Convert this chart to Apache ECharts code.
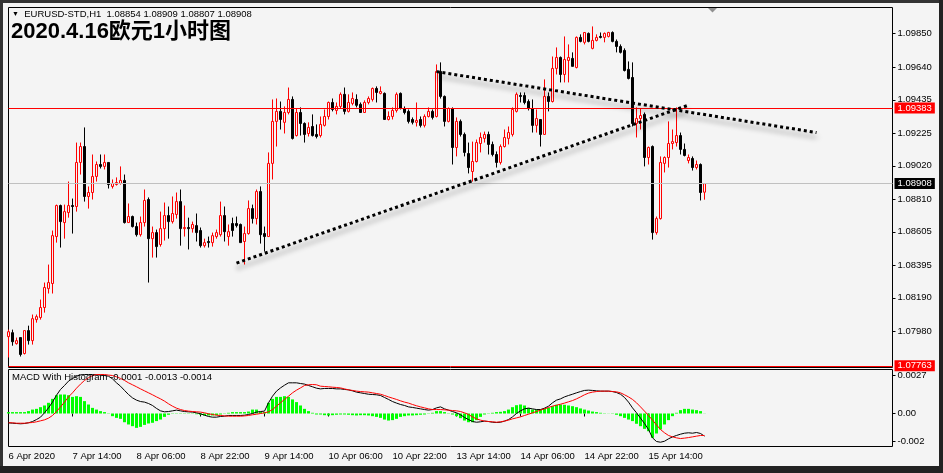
<!DOCTYPE html>
<html><head><meta charset="utf-8">
<script src="https://cdn.jsdelivr.net/npm/echarts@6/dist/echarts.min.js"></script>
<style>html,body{margin:0;padding:0;background:#2b2b2b;}#c{width:943px;height:473px;}</style>
</head><body><div id="c"></div>
<script>
// ---- data ----
const tickLabels = ['6 Apr 2020','7 Apr 14:00','8 Apr 06:00','8 Apr 22:00','9 Apr 14:00','10 Apr 06:00','10 Apr 22:00','13 Apr 14:00','14 Apr 06:00','14 Apr 22:00','15 Apr 14:00'];
const priceTicks = [1.09850,1.09640,1.09435,1.09225,1.09020,1.08810,1.08605,1.08395,1.08190,1.07980];
const macdTicks = [0.0027, 0, -0.002];
const macdTickLabels = ['0.0027','0.00','-0.002'];
const header = 'EURUSD-STD,H1  1.08854 1.08909 1.08807 1.08908';
const macdHeader = 'MACD With Histogram -0.0001 -0.0013 -0.0014';
const titleText = '2020.4.16欧元1小时图';
const levels = [1.09383, 1.08908, 1.07763];
const trendLines = [[[57,1.08408],[170,1.09401]],[[107,1.09612],[202,1.09229]]];
// [open, close, low, high]
const candles = [
[1.07946,1.07977,1.07815,1.07990],[1.07971,1.07914,1.07889,1.07990],[1.07902,1.07921,1.07896,1.07940],[1.07940,1.07834,1.07821,1.07940],[1.07840,1.07984,1.07834,1.07984],
[1.07984,1.07921,1.07896,1.08015],[1.07921,1.08059,1.07896,1.08085],[1.08053,1.08072,1.08034,1.08085],[1.08066,1.08129,1.08053,1.08179],[1.08129,1.08255,1.08097,1.08286],
[1.08248,1.08286,1.08217,1.08399],[1.08280,1.08581,1.08217,1.08613],[1.08575,1.08770,1.08537,1.08776],[1.08770,1.08669,1.08506,1.08776],[1.08663,1.08732,1.08562,1.08776],
[1.08726,1.08770,1.08694,1.08921],[1.08770,1.08764,1.08594,1.08814],[1.08764,1.09041,1.08732,1.09166],[1.09041,1.09141,1.08965,1.09166],[1.09141,1.08827,1.08795,1.09261],
[1.08827,1.08852,1.08751,1.08890],[1.08852,1.08953,1.08808,1.09091],[1.08953,1.09028,1.08921,1.09047],[1.09028,1.09016,1.09003,1.09091],[1.09016,1.09041,1.08997,1.09091],
[1.09041,1.08902,1.08877,1.09041],[1.08890,1.08909,1.08877,1.08934],[1.08902,1.08915,1.08896,1.08947],[1.08909,1.08928,1.08902,1.09016],[1.08928,1.08663,1.08657,1.08965],
[1.08663,1.08701,1.08663,1.08783],[1.08701,1.08638,1.08632,1.08707],[1.08638,1.08587,1.08575,1.08663],[1.08587,1.08663,1.08575,1.08701],[1.08663,1.08802,1.08638,1.08871],
[1.08808,1.08562,1.08286,1.08821],[1.08562,1.08600,1.08443,1.08638],[1.08600,1.08512,1.08443,1.08619],[1.08525,1.08625,1.08512,1.08732],[1.08625,1.08707,1.08550,1.08789],
[1.08707,1.08669,1.08562,1.08764],[1.08669,1.08720,1.08657,1.08827],[1.08714,1.08795,1.08688,1.08852],[1.08795,1.08625,1.08518,1.08871],[1.08625,1.08632,1.08575,1.08770],
[1.08632,1.08625,1.08494,1.08694],[1.08625,1.08651,1.08600,1.08669],[1.08644,1.08600,1.08544,1.08720],[1.08613,1.08518,1.08506,1.08632],[1.08518,1.08537,1.08506,1.08562],
[1.08544,1.08537,1.08506,1.08575],[1.08537,1.08581,1.08512,1.08600],[1.08575,1.08600,1.08562,1.08619],[1.08587,1.08707,1.08575,1.08795],[1.08707,1.08606,1.08544,1.08764],
[1.08575,1.08606,1.08518,1.08651],[1.08657,1.08613,1.08575,1.08694],[1.08657,1.08644,1.08632,1.08701],[1.08651,1.08537,1.08537,1.08657],[1.08544,1.08594,1.08399,1.08638],
[1.08594,1.08751,1.08587,1.08802],[1.08751,1.08688,1.08657,1.08776],[1.08688,1.08858,1.08651,1.08871],[1.08858,1.08587,1.08531,1.08890],[1.08594,1.08575,1.08481,1.08638],
[1.08575,1.09035,1.08575,1.09104],[1.09035,1.09299,1.08934,1.09437],[1.09299,1.09362,1.09141,1.09443],[1.09362,1.09311,1.09248,1.09424],[1.09293,1.09355,1.09223,1.09393],
[1.09355,1.09437,1.09343,1.09512],[1.09437,1.09192,1.09185,1.09456],[1.09210,1.09355,1.09204,1.09380],[1.09355,1.09286,1.09210,1.09387],[1.09286,1.09217,1.09166,1.09293],
[1.09223,1.09261,1.09204,1.09293],[1.09267,1.09210,1.09204,1.09343],[1.09217,1.09204,1.09192,1.09280],[1.09210,1.09280,1.09198,1.09330],[1.09274,1.09330,1.09267,1.09374],
[1.09330,1.09418,1.09311,1.09424],[1.09418,1.09374,1.09362,1.09443],[1.09368,1.09393,1.09343,1.09418],[1.09393,1.09469,1.09380,1.09481],[1.09469,1.09362,1.09343,1.09512],
[1.09362,1.09418,1.09355,1.09469],[1.09412,1.09443,1.09400,1.09481],[1.09437,1.09400,1.09387,1.09469],[1.09406,1.09355,1.09355,1.09418],[1.09355,1.09418,1.09355,1.09431],
[1.09418,1.09443,1.09406,1.09456],[1.09437,1.09506,1.09424,1.09512],[1.09506,1.09481,1.09418,1.09519],[1.09475,1.09487,1.09469,1.09519],[1.09475,1.09311,1.09311,1.09481],
[1.09311,1.09330,1.09305,1.09362],[1.09330,1.09368,1.09311,1.09387],[1.09368,1.09469,1.09355,1.09481],[1.09475,1.09380,1.09374,1.09481],[1.09380,1.09355,1.09343,1.09393],
[1.09362,1.09299,1.09286,1.09374],[1.09311,1.09293,1.09280,1.09324],[1.09293,1.09305,1.09267,1.09418],[1.09311,1.09274,1.09261,1.09330],[1.09274,1.09330,1.09261,1.09343],
[1.09330,1.09362,1.09324,1.09387],[1.09362,1.09324,1.09311,1.09374],[1.09330,1.09613,1.09324,1.09657],[1.09613,1.09456,1.09443,1.09670],[1.09456,1.09299,1.09267,1.09462],
[1.09299,1.09380,1.09293,1.09387],[1.09380,1.09135,1.09028,1.09387],[1.09135,1.09299,1.09079,1.09324],[1.09299,1.09217,1.09204,1.09311],[1.09217,1.09104,1.09079,1.09229],
[1.09097,1.09009,1.08972,1.09166],[1.08984,1.09047,1.08921,1.09172],[1.09047,1.09166,1.09041,1.09185],[1.09160,1.09198,1.09104,1.09229],[1.09192,1.09217,1.09166,1.09235],
[1.09217,1.09154,1.09091,1.09235],[1.09154,1.09091,1.09079,1.09172],[1.09091,1.09041,1.09009,1.09110],[1.09041,1.09141,1.09028,1.09154],[1.09141,1.09198,1.09135,1.09248],
[1.09192,1.09229,1.09154,1.09267],[1.09217,1.09374,1.09204,1.09387],[1.09362,1.09469,1.09355,1.09481],[1.09462,1.09456,1.09418,1.09481],[1.09462,1.09418,1.09406,1.09481],
[1.09424,1.09380,1.09368,1.09437],[1.09380,1.09274,1.09229,1.09437],[1.09274,1.09317,1.09229,1.09374],[1.09311,1.09217,1.09141,1.09311],[1.09217,1.09456,1.09217,1.09563],
[1.09456,1.09424,1.09362,1.09481],[1.09424,1.09632,1.09418,1.09707],[1.09632,1.09701,1.09594,1.09764],[1.09701,1.09594,1.09544,1.09707],[1.09594,1.09688,1.09544,1.09833],
[1.09682,1.09701,1.09544,1.09783],[1.09695,1.09645,1.09645,1.09733],[1.09638,1.09827,1.09632,1.09833],[1.09827,1.09802,1.09796,1.09846],[1.09796,1.09858,1.09783,1.09860],
[1.09852,1.09802,1.09796,1.09858],[1.09758,1.09808,1.09752,1.09896],[1.09808,1.09827,1.09802,1.09846],[1.09833,1.09827,1.09821,1.09858],[1.09827,1.09852,1.09796,1.09858],
[1.09833,1.09858,1.09827,1.09862],[1.09858,1.09802,1.09796,1.09865],[1.09802,1.09770,1.09733,1.09814],[1.09770,1.09733,1.09726,1.09783],[1.09745,1.09619,1.09613,1.09758],
[1.09626,1.09569,1.09563,1.09676],[1.09575,1.09286,1.09267,1.09670],[1.09286,1.09317,1.09198,1.09387],[1.09317,1.09336,1.09248,1.09380],[1.09343,1.09072,1.09016,1.09355],
[1.09072,1.09135,1.09028,1.09141],[1.09141,1.08600,1.08556,1.09148],[1.08600,1.08688,1.08587,1.08701],[1.08688,1.09041,1.08682,1.09079],[1.09035,1.09072,1.08978,1.09079],
[1.09072,1.09160,1.09009,1.09299],[1.09160,1.09172,1.09123,1.09248],[1.09166,1.09210,1.09141,1.09387],[1.09210,1.09123,1.09091,1.09229],[1.09123,1.09085,1.09079,1.09160],
[1.09053,1.09072,1.09035,1.09091],[1.09066,1.09009,1.08990,1.09079],[1.09009,1.09028,1.08997,1.09053],[1.09028,1.08852,1.08802,1.09035],[1.08854,1.08908,1.08807,1.08909]
];
const macdMain = [
-0.00066,-0.00069,-0.00071,-0.00073,-0.00071,-0.00066,-0.00057,-0.00043,-0.00026,0.00005,
0.00040,0.00081,0.00130,0.00171,0.00199,0.00230,0.00249,0.00265,0.00275,0.00277,
0.00277,0.00277,0.00275,0.00273,0.00270,0.00265,0.00246,0.00218,0.00194,0.00164,
0.00135,0.00111,0.00095,0.00085,0.00081,0.00071,0.00057,0.00036,0.00019,0.00012,
0.00014,0.00019,0.00024,0.00019,0.00014,0.00012,0.00010,0.00005,-0.00002,-0.00012,
-0.00021,-0.00026,-0.00026,-0.00021,-0.00019,-0.00014,-0.00014,-0.00014,-0.00014,-0.00012,
-0.00007,0.00000,0.00010,0.00014,0.00017,0.00076,0.00123,0.00159,0.00182,0.00201,
0.00218,0.00218,0.00218,0.00213,0.00209,0.00199,0.00190,0.00180,0.00175,0.00178,
0.00178,0.00178,0.00175,0.00175,0.00171,0.00168,0.00161,0.00152,0.00147,0.00142,
0.00137,0.00135,0.00133,0.00128,0.00114,0.00100,0.00085,0.00074,0.00064,0.00057,
0.00047,0.00043,0.00038,0.00033,0.00028,0.00024,0.00028,0.00040,0.00047,0.00033,
0.00024,0.00014,0.00005,-0.00009,-0.00028,-0.00043,-0.00057,-0.00062,-0.00059,-0.00054,
-0.00057,-0.00062,-0.00064,-0.00062,-0.00054,-0.00043,-0.00024,0.00000,0.00019,0.00033,
0.00038,0.00033,0.00028,0.00028,0.00038,0.00052,0.00076,0.00095,0.00104,0.00118,
0.00128,0.00137,0.00147,0.00156,0.00164,0.00166,0.00164,0.00161,0.00159,0.00159,
0.00159,0.00156,0.00149,0.00137,0.00114,0.00081,0.00040,0.00005,-0.00033,-0.00071,
-0.00114,-0.00173,-0.00199,-0.00204,-0.00197,-0.00180,-0.00166,-0.00156,-0.00147,-0.00140,
-0.00137,-0.00140,-0.00135,-0.00142,-0.00161
];
const macdSignal = [
-0.00066,-0.00066,-0.00069,-0.00069,-0.00069,-0.00066,-0.00064,-0.00059,-0.00052,-0.00045,
-0.00033,-0.00014,0.00014,0.00047,0.00081,0.00118,0.00147,0.00180,0.00209,0.00235,
0.00254,0.00270,0.00277,0.00277,0.00277,0.00273,0.00270,0.00261,0.00249,0.00235,
0.00218,0.00204,0.00190,0.00175,0.00161,0.00147,0.00133,0.00118,0.00104,0.00088,
0.00069,0.00052,0.00038,0.00028,0.00021,0.00017,0.00014,0.00012,0.00010,0.00005,
-0.00002,-0.00007,-0.00012,-0.00014,-0.00017,-0.00019,-0.00019,-0.00019,-0.00019,-0.00017,
-0.00014,-0.00009,-0.00005,0.00000,0.00005,0.00012,0.00028,0.00052,0.00076,0.00100,
0.00123,0.00147,0.00166,0.00182,0.00199,0.00204,0.00206,0.00204,0.00194,0.00192,
0.00190,0.00187,0.00185,0.00182,0.00175,0.00168,0.00164,0.00159,0.00156,0.00154,
0.00152,0.00147,0.00142,0.00137,0.00128,0.00118,0.00109,0.00100,0.00090,0.00081,
0.00074,0.00064,0.00055,0.00047,0.00040,0.00033,0.00028,0.00028,0.00028,0.00026,
0.00024,0.00021,0.00019,0.00014,0.00005,-0.00007,-0.00024,-0.00038,-0.00047,-0.00054,
-0.00057,-0.00059,-0.00062,-0.00059,-0.00054,-0.00047,-0.00038,-0.00031,-0.00024,-0.00014,
-0.00005,0.00005,0.00014,0.00024,0.00033,0.00043,0.00052,0.00059,0.00066,0.00074,
0.00083,0.00092,0.00104,0.00118,0.00133,0.00145,0.00152,0.00156,0.00159,0.00159,
0.00159,0.00156,0.00154,0.00147,0.00133,0.00118,0.00100,0.00076,0.00047,0.00017,
-0.00014,-0.00047,-0.00081,-0.00114,-0.00137,-0.00156,-0.00166,-0.00173,-0.00178,-0.00175,
-0.00171,-0.00166,-0.00161,-0.00156,-0.00156
];
const macdHist = [
0.00010,0.00010,0.00010,0.00010,0.00010,0.00017,0.00028,0.00033,0.00045,0.00057,
0.00076,0.00104,0.00130,0.00135,0.00135,0.00130,0.00118,0.00123,0.00118,0.00088,
0.00064,0.00040,0.00028,0.00017,0.00010,-0.00002,-0.00019,-0.00031,-0.00038,-0.00062,
-0.00078,-0.00090,-0.00102,-0.00095,-0.00081,-0.00071,-0.00066,-0.00054,-0.00043,-0.00024,
-0.00009,-0.00002,-0.00002,-0.00002,-0.00002,0.00002,0.00002,-0.00005,-0.00009,-0.00014,
-0.00014,-0.00014,-0.00012,-0.00007,-0.00002,0.00005,0.00010,0.00010,0.00010,0.00010,
0.00014,0.00028,0.00028,0.00014,0.00010,0.00076,0.00104,0.00118,0.00118,0.00123,
0.00118,0.00100,0.00081,0.00057,0.00033,0.00017,0.00005,-0.00007,-0.00007,-0.00012,
-0.00014,-0.00012,-0.00009,-0.00007,-0.00007,-0.00009,-0.00012,-0.00014,-0.00012,-0.00012,
-0.00014,-0.00019,-0.00024,-0.00031,-0.00043,-0.00050,-0.00047,-0.00038,-0.00024,-0.00019,
-0.00014,-0.00014,-0.00012,-0.00009,-0.00007,-0.00002,0.00005,0.00017,0.00017,0.00010,
-0.00002,-0.00007,-0.00019,-0.00033,-0.00050,-0.00062,-0.00062,-0.00047,-0.00024,-0.00007,
-0.00002,0.00005,0.00010,0.00012,0.00017,0.00028,0.00045,0.00059,0.00064,0.00057,
0.00040,0.00028,0.00028,0.00028,0.00033,0.00040,0.00052,0.00062,0.00064,0.00062,
0.00057,0.00052,0.00045,0.00036,0.00028,0.00021,0.00014,0.00010,0.00005,0.00002,
0.00001,-0.00002,-0.00009,-0.00019,-0.00031,-0.00043,-0.00054,-0.00073,-0.00090,-0.00109,
-0.00126,-0.00173,-0.00142,-0.00114,-0.00078,-0.00047,-0.00019,0.00005,0.00024,0.00033,
0.00033,0.00028,0.00024,0.00017,0.00001
];
// ---- chart ----
const SLOTS = 222; // visible bar slots (chart has empty space on the right)
const cats = Array.from({length: SLOTS}, (_, i) => String(i));
const FONT = "'Liberation Sans', Arial, sans-serif";
const isTick = (i) => i % 16 === 0 && i / 16 < tickLabels.length;
const tagLabel = (bg) => ({show: true, position: 'end', distance: 2, formatter: p => Number(p.value).toFixed(5),
  color: '#fff', backgroundColor: bg, padding: [1, 3, 0, 3], fontSize: 9.5, fontFamily: FONT});
const chart = echarts.init(document.getElementById('c'));
chart.setOption({
  animation: false,
  backgroundColor: '#f4f4f4',
  title: [
    {text: '{t|▼}  ' + header, left: 12, top: 9.5, padding: 0,
     textStyle: {fontSize: 9.5, fontWeight: 'normal', color: '#000', fontFamily: FONT, rich: {t: {fontSize: 7, color: '#000'}}}},
    {text: titleText, left: 11, top: 21, padding: 0,
     textStyle: {fontSize: 22, fontWeight: 'bold', color: '#000', fontFamily: "'Liberation Sans','Noto Sans CJK SC',sans-serif"}},
    {text: macdHeader, left: 12, top: 372.5, padding: 0,
     textStyle: {fontSize: 9.5, fontWeight: 'normal', color: '#000', fontFamily: FONT}}
  ],
  grid: [
    {left: 8.5, top: 7.5, width: 884, height: 360, show: true, borderColor: '#000', borderWidth: 1},
    {left: 8.5, top: 369.5, width: 884, height: 77, show: true, borderColor: '#000', borderWidth: 1}
  ],
  xAxis: [
    {type: 'category', gridIndex: 0, data: cats, boundaryGap: false, axisLine: {show: false}, axisTick: {show: false}, axisLabel: {show: false}, splitLine: {show: false}},
    {type: 'category', gridIndex: 1, data: cats, boundaryGap: false, axisLine: {show: false}, splitLine: {show: false},
     axisTick: {show: true, length: 3, interval: isTick, lineStyle: {color: '#000'}},
     axisLabel: {interval: isTick, formatter: (v) => tickLabels[Number(v) / 16] || '', align: 'left', margin: 5, color: '#000', fontSize: 9.5, fontFamily: FONT}}
  ],
  yAxis: [
    {type: 'value', gridIndex: 0, position: 'right', min: 1.07752, max: 1.10015, splitLine: {show: false}, axisLine: {show: false},
     axisTick: {show: true, length: 3, customValues: priceTicks, lineStyle: {color: '#000'}},
     axisLabel: {customValues: priceTicks, formatter: v => v.toFixed(5), margin: 5, color: '#000', fontSize: 9.5, fontFamily: FONT}},
    {type: 'value', gridIndex: 1, position: 'right', min: -0.002345, max: 0.003127, splitLine: {show: false}, axisLine: {show: false},
     axisTick: {show: true, length: 3, customValues: macdTicks, lineStyle: {color: '#000'}},
     axisLabel: {customValues: macdTicks, formatter: v => macdTickLabels[macdTicks.indexOf(v)] ?? String(v), margin: 5, color: '#000', fontSize: 9.5, fontFamily: FONT}}
  ],
  series: [
    {type: 'candlestick', xAxisIndex: 0, yAxisIndex: 0, data: candles, barWidth: 2,
     itemStyle: {color: '#f4f4f4', color0: '#000', borderColor: '#ff0000', borderColor0: '#000', borderColorDoji: '#000', borderWidth: 1},
     markLine: {symbol: 'none', silent: true, animation: false, precision: 5,
       data: [
         {yAxis: levels[1], lineStyle: {color: '#c0c0c0', width: 1, type: 'solid'}, label: tagLabel('#000')},
         {yAxis: levels[0], lineStyle: {color: '#ff0000', width: 1, type: 'solid'}, label: tagLabel('#ff0000')},
         {yAxis: levels[2], lineStyle: {color: '#ff0000', width: 1, type: 'solid'}, label: tagLabel('#ff0000')},
         ...trendLines.map(l => [
           {coord: l[0], lineStyle: {color: '#000', width: 3, type: [3, 3], shadowColor: 'rgba(0,0,0,0.45)', shadowBlur: 5, shadowOffsetY: 5, shadowOffsetX: 1}, label: {show: false}},
           {coord: l[1]}
         ])
       ]}},
    {type: 'bar', xAxisIndex: 1, yAxisIndex: 1, data: macdHist, barWidth: 3, itemStyle: {color: '#00ff00'}, silent: true},
    {type: 'line', xAxisIndex: 1, yAxisIndex: 1, data: macdMain, symbol: 'none', lineStyle: {color: '#000', width: 1}, silent: true},
    {type: 'line', xAxisIndex: 1, yAxisIndex: 1, data: macdSignal, symbol: 'none', lineStyle: {color: '#ff0000', width: 1}, silent: true}
  ],
  graphic: [
    {type: 'rect', shape: {x: 0, y: 0, width: 943, height: 3}, style: {fill: '#333'}, silent: true},
    {type: 'rect', shape: {x: 0, y: 0, width: 3, height: 473}, style: {fill: '#333'}, silent: true},
    {type: 'rect', shape: {x: 939, y: 0, width: 4, height: 473}, style: {fill: '#222'}, silent: true},
    {type: 'rect', shape: {x: 0, y: 466, width: 943, height: 7}, style: {fill: '#222'}, silent: true},
    {type: 'polygon', shape: {points: [[708, 8], [717, 8], [712.5, 12.5]]}, style: {fill: '#909090'}, silent: true}
  ]
});
</script></body></html>
